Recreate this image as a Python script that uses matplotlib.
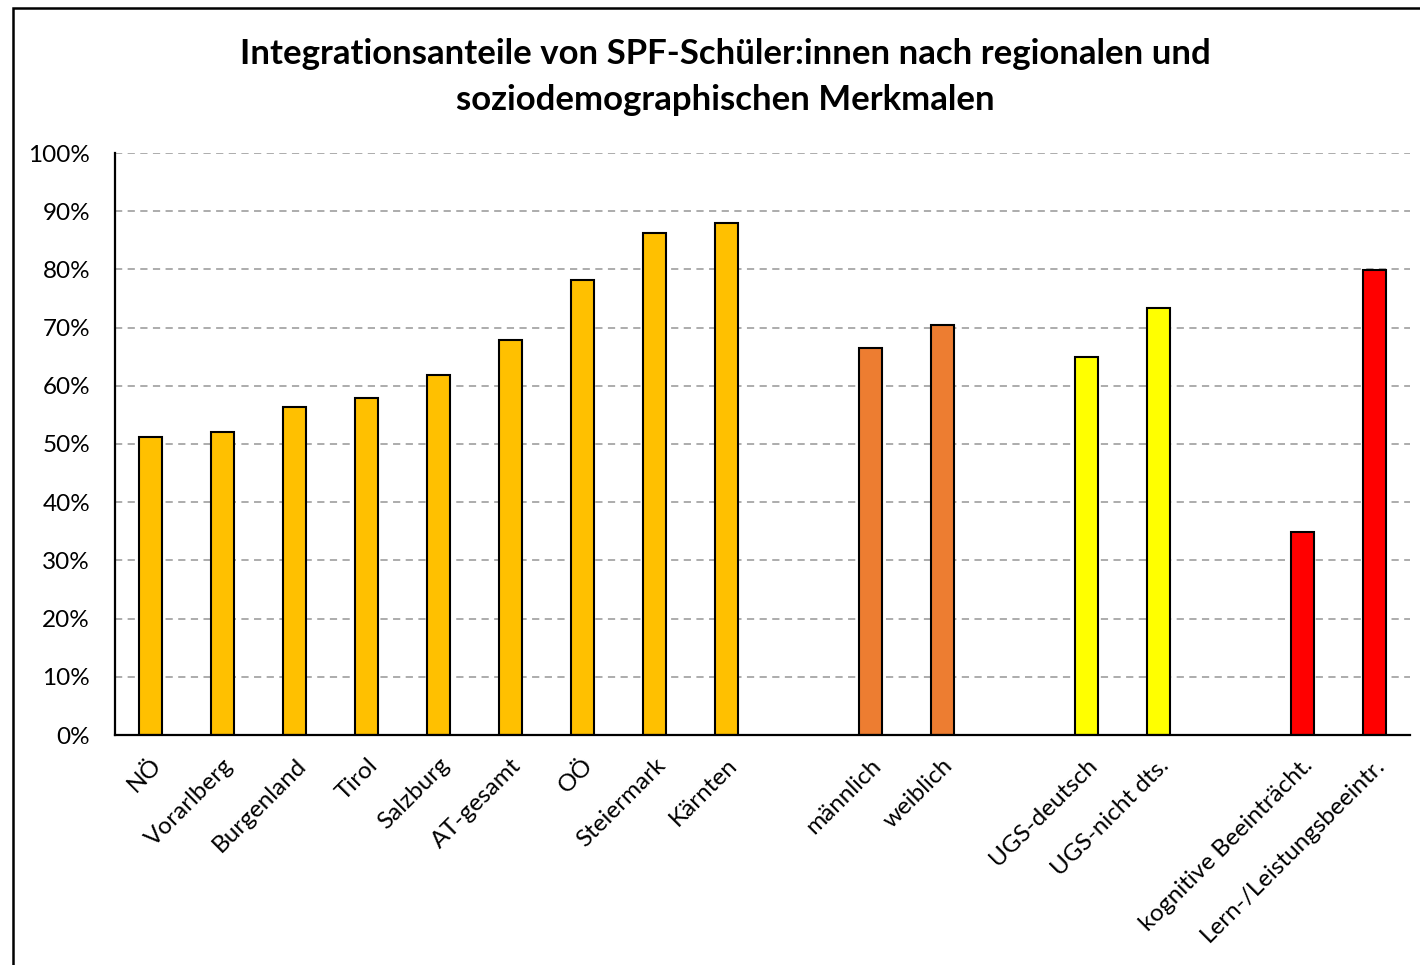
import numpy as np
import matplotlib
matplotlib.use("Agg")
import matplotlib.pyplot as plt
from matplotlib.patches import Rectangle

# Daten (Anteil integriert in %), Reihenfolge wie im Original
labels = ["NÖ", "Vorarlberg", "Burgenland", "Tirol", "Salzburg", "AT-gesamt", "OÖ",
          "Steiermark", "Kärnten", "", "männlich", "weiblich", "",
          "UGS-deutsch", "UGS-nicht dts.", "", "kognitive Beeinträcht.", "Lern-/Leistungsbeeintr."]
values = [51.2, 52.1, 56.4, 57.9, 61.9, 67.9, 78.2, 86.3, 88.0, np.nan,
          66.5, 70.4, np.nan, 64.9, 73.4, np.nan, 34.9, 79.9]
groups = ["reg"] * 9 + [None] + ["sex"] * 2 + [None] + ["lang"] * 2 + [None] + ["beein"] * 2
group_colors = {"reg": "#FFC000", "sex": "#ED7D31", "lang": "#FFFF00", "beein": "#FF0000"}

plt.rcParams["font.family"] = ["Lato", "DejaVu Sans"]

fig = plt.figure(figsize=(14.2, 9.65), dpi=100)
ax = fig.add_axes([115 / 1420, 1 - 735 / 965, (1410 - 115) / 1420, (735 - 153) / 965])

x = np.arange(len(labels))
for xi, v, g in zip(x, values, groups):
    if g is None:
        continue
    ax.bar(xi, v, width=0.32, color=group_colors[g], edgecolor="black", linewidth=1.5, zorder=3)

ax.set_xlim(-0.5, len(labels) - 0.5)
ax.set_ylim(0, 100)
ax.set_yticks(np.arange(0, 101, 10))
ax.set_yticklabels([f"{v}%" for v in range(0, 101, 10)], fontsize=17.5)
ax.yaxis.grid(True, linestyle=(0, (4, 3)), color="#A6A6A6", linewidth=1.3, zorder=0)
ax.tick_params(axis="y", length=0, pad=18)
ax.tick_params(axis="x", length=0, pad=14)

ax.set_xticks(x)
ax.set_xticklabels(labels, rotation=45, ha="right", rotation_mode="anchor", fontsize=17.5)

for s in ("top", "right"):
    ax.spines[s].set_visible(False)
for s in ("left", "bottom"):
    ax.spines[s].set_linewidth(1.6)
    ax.spines[s].set_zorder(4)

fig.text(0.511, 1 - 77 / 965, "Integrationsanteile von SPF-Schüler:innen nach regionalen und\n"
         "soziodemographischen Merkmalen", ha="center", va="center",
         fontsize=25, fontweight="bold", linespacing=1.5)

# Rahmen des Diagrammbereichs (rechts/unten abgeschnitten)
fig.patches.append(Rectangle((13 / 1420, -0.1), 1.2, 1.1 - 8 / 965, transform=fig.transFigure,
                             fill=False, edgecolor="black", linewidth=1.8))

fig.savefig("out.png", dpi=100)
